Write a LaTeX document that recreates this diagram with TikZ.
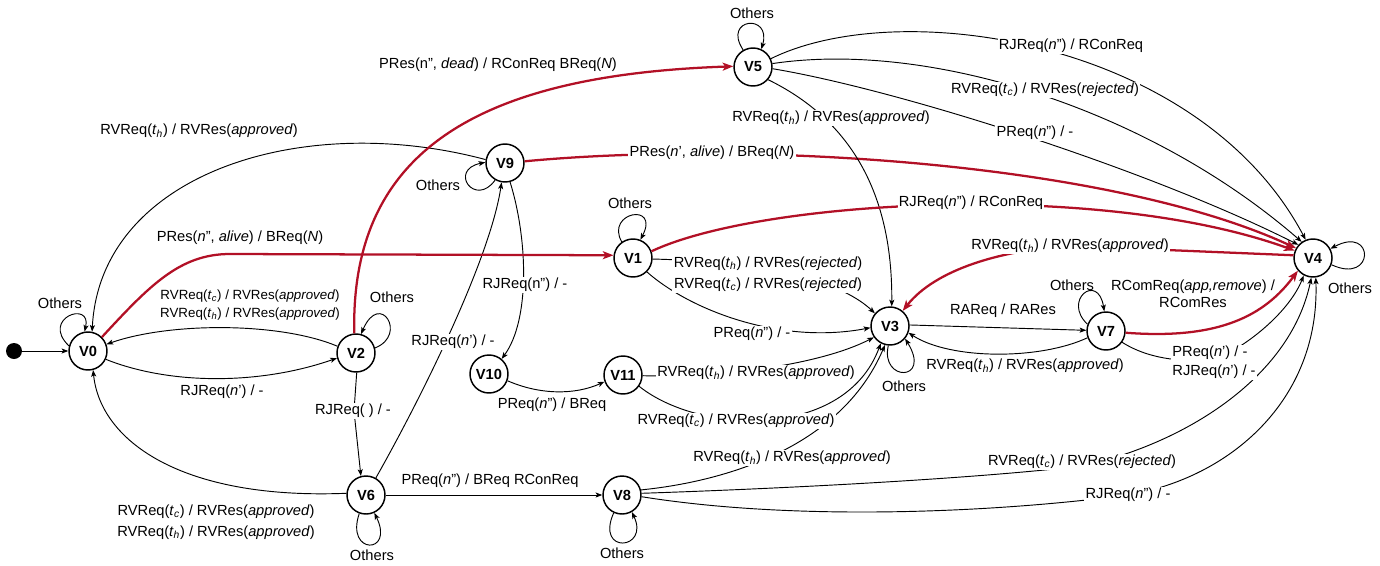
\documentclass[tikz,border=0pt]{standalone}
\usepackage{fontspec}
\setmainfont{Liberation Sans}
\usetikzlibrary{arrows.meta}
\definecolor{redline}{RGB}{178,16,38}
\newcommand{\tsub}[1]{\textit{t}\textsubscript{\textit{#1}}}

\begin{document}
\begin{tikzpicture}[x=0.75pt,y=-0.75pt,
  vstate/.style={circle,draw,line width=1.1pt,minimum size=28.5pt,inner sep=0pt,
    font=\fontsize{11}{13}\selectfont\bfseries,fill=white},
  tr/.style={line width=0.7pt,-{Stealth[length=5pt,width=3.8pt,inset=1.2pt]}},
  hotedge/.style={draw=redline,line width=1.7pt,-{Stealth[length=8pt,width=6pt,inset=2pt]}},
  lbl/.style={font=\fontsize{11}{14}\selectfont,inner sep=1pt,align=center},
  cut/.style={lbl,fill=white},
]
\useasboundingbox (0,0) rectangle (1380,565);

% states
\node[circle,fill=black,minimum size=12pt,inner sep=0pt] (S) at (14,351) {};
\node[vstate] (V0) at (88,351) {V0};
\node[vstate] (V2) at (356,353) {V2};
\node[vstate] (V6) at (366,495) {V6};
\node[vstate] (V9) at (505,163) {V9};
\node[vstate] (V5) at (753,67) {V5};
\node[vstate] (V1) at (633,258) {V1};
\node[vstate] (V10) at (489,374) {V10};
\node[vstate] (V11) at (623,375) {V11};
\node[vstate] (V3) at (890,326) {V3};
\node[vstate] (V7) at (1106,331) {V7};
\node[vstate] (V4) at (1313,258) {V4};
\node[vstate] (V8) at (622,495) {V8};

% transitions
\draw[tr] (S) -- (V0);
\draw[tr] (V0.165) .. controls (40,318) and (92,300) .. (V0.100);
\draw[tr] (V0.-25) .. controls (170,385) and (260,385) .. (V2.195);
\draw[tr] (V2.160) .. controls (280,322) and (170,322) .. (V0.20);
\draw[tr] (V2.15) .. controls (408,335) and (380,290) .. (V2.75);
\draw[tr] (V2.-88) -- (354,411) -- (V6.105);
\draw[tr] (V6.175) .. controls (180,500) and (100,440) .. (V0.-75);
\draw[tr] (V6.-110) .. controls (345,555) and (395,555) .. (V6.-65);
\draw[tr] (V6.60) .. controls (420,400) and (490,260) .. (V9.-100);
\draw[tr] (V9.170) .. controls (300,110) and (100,175) .. (V0.78);
\draw[tr] (V9.-120) .. controls (475,208) and (448,170) .. (V9.178);
\draw[tr] (V9.-75) .. controls (528,240) and (530,320) .. (V10.50);
\draw[hotedge] (V9.5) .. controls (750,140) and (1110,162) .. (V4.150);
\draw[hotedge] (V0.45) .. controls (150,285) and (180,254) .. (230,254) -- (V1.172);
\draw[hotedge] (V2.95) .. controls (350,150) and (480,75) .. (V5.178);
\draw[tr] (V5.120) .. controls (722,18) and (772,13) .. (V5.65);
\draw[tr] (V5.25) .. controls (900,-5) and (1200,40) .. (V4.112);
\draw[tr] (V5.10) .. controls (930,40) and (1150,110) .. (V4.125);
\draw[tr] (V5.-5) .. controls (900,90) and (1150,170) .. (V4.138);
\draw[tr] (V5.-40) .. controls (830,110) and (893,170) .. (V3.85);
\draw[tr] (V1.125) .. controls (605,212) and (660,202) .. (V1.68);
\draw[hotedge] (V1.20) .. controls (760,200) and (1100,180) .. (V4.158);
\draw[tr] (V1.-3) .. controls (780,262) and (845,285) .. (V3.140);
\draw[tr] (V1.-45) .. controls (690,310) and (780,345) .. (V3.-175);
\draw[tr] (V10.-20) .. controls (540,395) and (575,395) .. (V11.-160);
\draw[tr] (V11.-2) .. controls (720,378) and (820,365) .. (V3.-145);
\draw[tr] (V11.-35) .. controls (700,435) and (845,440) .. (V3.-118);
\draw[tr] (V8.15) .. controls (720,482) and (840,450) .. (V3.-105);
\draw[tr] (V6) -- (V8);
\draw[tr] (V8.-115) .. controls (595,555) and (650,550) .. (V8.-60);
\draw[tr] (V8.5) .. controls (800,488) and (980,478) .. (1082,466)
  .. controls (1180,445) and (1290,380) .. (V4.-95);
\draw[tr] (V8.-5) .. controls (800,522) and (1000,512) .. (1128,495)
  .. controls (1230,478) and (1320,400) .. (V4.-82);
\draw[tr] (V3.3) -- (V7.178);
\draw[tr] (V7.-160) .. controls (1040,360) and (950,360) .. (V3.-20);
\draw[tr] (V3.-95) .. controls (880,382) and (932,382) .. (V3.-40);
\draw[tr] (V7.160) .. controls (1062,300) and (1098,272) .. (V7.95);
\draw[hotedge] (V7.-5) .. controls (1220,340) and (1265,315) .. (V4.-140);
\draw[tr] (V7.-35) .. controls (1150,360) and (1185,362) .. (1214,360)
  .. controls (1250,345) and (1290,310) .. (V4.-118);
\draw[hotedge] (V4.172) -- (1070,246) .. controls (1000,250) and (935,270) .. (V3.50);
\draw[tr] (V4.-20) .. controls (1375,285) and (1375,225) .. (V4.28);

% labels
\node[lbl] (l00) at (60,303) {Others};
\node[lbl,font=\fontsize{10}{14}\selectfont] (l20) at (250,305)
  {RVReq(\tsub{c}) / RVRes(\textit{approved})\\RVReq(\tsub{h}) / RVRes(\textit{approved})};
\node[lbl] (l02) at (222,392) {RJReq(\textit{n}') / -};
\node[lbl] (l22) at (392,297) {Others};
\node[cut] (l26) at (353,411) {RJReq( ) / -};
\node[lbl,font=\fontsize{11}{15.5}\selectfont] (l60) at (216,522)
  {RVReq(\tsub{c}) / RVRes(\textit{approved})\\RVReq(\tsub{h}) / RVRes(\textit{approved})};
\node[lbl] (l66) at (372,555) {Others};
\node[cut] (l69) at (453,342) {RJReq(\textit{n}') / -};
\node[lbl] (l90) at (199,131) {RVReq(\tsub{h}) / RVRes(\textit{approved})};
\node[lbl] (l99) at (438,185) {Others};
\node[cut] (l910) at (525,285) {RJReq(n'') / -};
\node[cut] (l94) at (712,153) {PRes(\textit{n}', \textit{alive}) / BReq(\textit{N})};
\node[lbl] (l01) at (240,238) {PRes(\textit{n}'', \textit{alive}) / BReq(\textit{N})};
\node[lbl] (l25) at (498,65) {PRes(n'', \textit{dead}) / RConReq BReq(\textit{N})};
\node[lbl] (l55) at (752,13) {Others};
\node[cut] (l54a) at (1071,46) {RJReq(\textit{n}'') / RConReq};
\node[cut] (l54b) at (1045,90) {RVReq(\tsub{c}) / RVRes(\textit{rejected})};
\node[cut] (l54c) at (1035,133) {PReq(\textit{n}'') / -};
\node[cut] (l53) at (831,118) {RVReq(\tsub{h}) / RVRes(\textit{approved})};
\node[lbl] (l11) at (630,203) {Others};
\node[cut] (l14) at (971,203) {RJReq(\textit{n}'') / RConReq};
\node[cut,font=\fontsize{11}{16}\selectfont] (l13a) at (768,274)
  {RVReq(\tsub{h}) / RVRes(\textit{rejected})\\RVReq(\tsub{c}) / RVRes(\textit{rejected})};
\node[cut] (l13b) at (752,334) {PReq(\textit{n}'') / -};
\node[lbl] (l1011) at (552,405) {PReq(\textit{n}'') / BReq};
\node[cut] (l113a) at (756,373) {RVReq(\tsub{h}) / RVRes(\textit{approved})};
\node[cut] (l113b) at (736,421) {RVReq(\tsub{c}) / RVRes(\textit{approved})};
\node[cut] (l83) at (792,458) {RVReq(\tsub{h}) / RVRes(\textit{approved})};
\node[lbl] (l68) at (490,481) {PReq(\textit{n}'') / BReq RConReq};
\node[lbl] (l88) at (622,553) {Others};
\node[cut] (l84a) at (1082,462) {RVReq(\tsub{c}) / RVRes(\textit{rejected})};
\node[cut] (l84b) at (1128,495) {RJReq(\textit{n}'') / -};
\node[lbl] (l37) at (1003,311) {RAReq / RARes};
\node[lbl] (l73) at (1025,366) {RVReq(\tsub{h}) / RVRes(\textit{approved})};
\node[lbl] (l33) at (904,386) {Others};
\node[lbl] (l77) at (1072,285) {Others};
\node[lbl,font=\fontsize{11}{13}\selectfont] (l74a) at (1193,294)
  {RComReq(\textit{app,remove}) /\\RComRes};
\node[cut,align=left] (l74b) at (1214,362) {PReq(\textit{n}') / -\\RJReq(\textit{n}') / -};
\node[cut] (l43) at (1070,246) {RVReq(\tsub{h}) / RVRes(\textit{approved})};
\node[lbl] (l44) at (1350,288) {Others};
\end{tikzpicture}
\end{document}
